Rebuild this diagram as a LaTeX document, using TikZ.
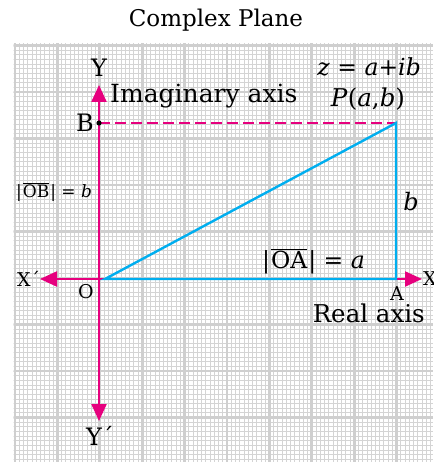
\documentclass[tikz,border=0pt]{standalone}
\usepackage{fontspec}
\setmainfont{DejaVu Serif}
\usetikzlibrary{arrows.meta}
\definecolor{pinkax}{HTML}{E6007E}
\definecolor{cyanln}{HTML}{00AEEF}
\tikzset{
  minorline/.style={draw=black!17, line width=0.8pt},
  majorline/.style={draw=black!19, line width=2.8pt},
  axisline/.style={draw=pinkax, line width=2.2pt, -{Triangle[length=17pt,width=15pt]}},
  triline/.style={draw=cyanln, line width=2.4pt, line join=miter},
  dashline/.style={draw=pinkax, line width=2pt, dash pattern=on 11pt off 5pt},
  lbl/.style={inner sep=0pt, font=\fontsize{24}{26}\selectfont},
  smalllbl/.style={inner sep=0pt, font=\fontsize{19}{21}\selectfont},
}
\begin{document}
\begin{tikzpicture}[x=1pt,y=-1pt]
\useasboundingbox (0,0) rectangle (433,462);
\fill[white] (0,0) rectangle (433,462);
% graph paper
\begin{scope}
\clip (13.5,43.5) rectangle (433,462);
\foreach \i in {0,...,100} {\draw[minorline] ({15+\i*4.24},43) -- ({15+\i*4.24},462);}
\foreach \j in {0,...,92} {\draw[minorline] (13,{45.5+\j*4.65}) -- (433,{45.5+\j*4.65});}
\foreach \i in {0,...,10} {\draw[majorline] ({15+\i*42.4},43) -- ({15+\i*42.4},462);}
\foreach \j in {0,...,9} {\draw[majorline] (13,{45.5+\j*46.5}) -- (433,{45.5+\j*46.5});}
\end{scope}
% title
\node[lbl, font=\fontsize{23}{25}\selectfont] (title) at (216,20) {Complex Plane};
% key points
\coordinate (O) at (99,279);
\coordinate (Ot) at (105,279);
\coordinate (A) at (396,279);
\coordinate (P) at (396,123);
\coordinate (B) at (99,123);
\coordinate (ytop) at (99,85);
\coordinate (ybot) at (99,421);
\coordinate (xleft) at (40,279);
\coordinate (xright) at (422,279);
% axes
\draw[axisline] (O) -- (ytop);
\draw[axisline] (O) -- (ybot);
\draw[axisline] (O) -- (xleft);
\draw[axisline] (A) -- (xright);
\draw[draw=pinkax, line width=2.2pt] (O) -- (A);
% dashed line
\draw[dashline] (B) -- (P);
% triangle
\draw[triline] (Ot) -- (A) -- (P) -- cycle;
\fill[black] (B) circle (2.6pt);
% labels
\node[lbl, anchor=base] (Ylab) at (99,77) {Y};
\node[lbl, anchor=base] (Yplab) at (100,445) {Y´};
\node[lbl, anchor=base west, font=\fontsize{25}{27}\selectfont] (imag) at (110,103) {Imaginary axis};
\node[lbl, anchor=base east] (Blab) at (94,132) {B};
\node[smalllbl, anchor=base west, font=\fontsize{17}{19}\selectfont] (OBlab) at (16,197) {|\kern1pt$\overline{\hbox{OB}}$\kern1pt| = \textit{b}};
\node[lbl, anchor=base east, font=\fontsize{23.5}{26}\selectfont] (zlab) at (421,76) {\textit{z} = \textit{a}+\textit{ib}};
\node[lbl, anchor=base, font=\fontsize{24.5}{26}\selectfont] (Plab) at (368,107) {\textit{P}(\textit{a},\textit{b})};
\node[lbl, anchor=base] (blab) at (411,210) {\textit{b}};
\node[lbl, anchor=base west, font=\fontsize{23.5}{25}\selectfont] (OAlab) at (262,268) {|\kern1pt$\overline{\hbox{OA}}$\kern1pt| = \textit{a}};
\node[smalllbl, anchor=base west] (Xplab) at (17,286) {X´};
\node[smalllbl, anchor=base west] (Xlab) at (423,285) {X};
\node[smalllbl, anchor=base] (Olab) at (86,298) {O};
\node[smalllbl, anchor=base] (Alab) at (397,300) {A};
\node[lbl, anchor=base east, font=\fontsize{24.5}{26}\selectfont] (real) at (425,322) {Real axis};
\end{tikzpicture}
\end{document}
